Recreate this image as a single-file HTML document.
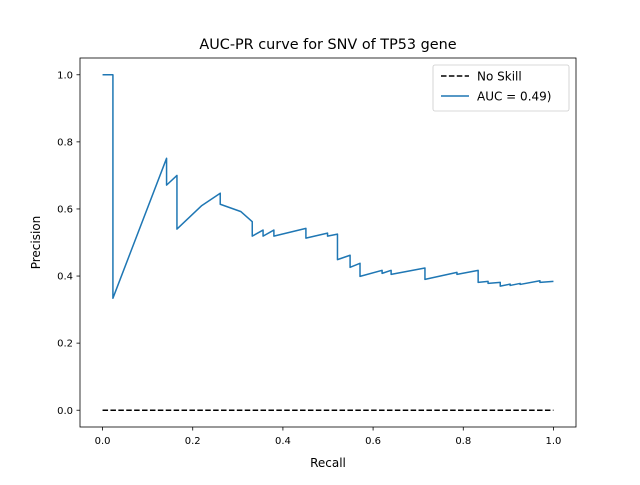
<!DOCTYPE html>
<html><head><meta charset="utf-8"><style>
body{margin:0;background:#fff}
svg{font-family:"DejaVu Sans","Liberation Sans",sans-serif}
</style></head><body>
<svg id="chart" width="640" height="480" xmlns="http://www.w3.org/2000/svg">
<rect width="640" height="480" fill="#fff"/>
<text x="328" y="49" text-anchor="middle" font-size="14.4">AUC-PR curve for SNV of TP53 gene</text>
<g id="ticks"></g>
<line id="noskill" stroke="#000" stroke-width="1.5" stroke-dasharray="5.5,2.4"/>
<path id="curve" fill="none" stroke="#1f77b4" stroke-width="1.5" stroke-linejoin="round"/>
<rect x="80" y="58" width="496" height="369" fill="none" stroke="#000" stroke-width="0.8"/>
<text x="328" y="467" text-anchor="middle" font-size="12">Recall</text>
<text transform="translate(40,242.5) rotate(-90)" text-anchor="middle" font-size="12">Precision</text>
<g>
<rect x="433" y="65" width="136" height="46" rx="2" fill="#fff" stroke="#ccc" stroke-width="0.8"/>
<line x1="441" y1="76" x2="469" y2="76" stroke="#000" stroke-width="1.5" stroke-dasharray="5.5,2.4"/>
<text x="477" y="80.5" font-size="12">No Skill</text>
<line x1="441" y1="96" x2="469" y2="96" stroke="#1f77b4" stroke-width="1.5"/>
<text x="477" y="100.5" font-size="12">AUC = 0.49)</text>
</g>
</svg>
<script>
const recall=[0,0.023,0.023,0.142,0.142,0.165,0.165,0.220,0.261,0.261,0.307,0.332,0.332,0.356,0.356,0.380,0.380,0.451,0.451,0.499,0.499,0.521,0.521,0.549,0.549,0.571,0.571,0.620,0.620,0.640,0.640,0.715,0.715,0.786,0.786,0.833,0.833,0.855,0.855,0.882,0.882,0.904,0.904,0.926,0.926,0.970,0.970,1.0];
const precision=[1,1,0.334,0.751,0.671,0.700,0.540,0.610,0.647,0.614,0.592,0.562,0.519,0.537,0.519,0.537,0.519,0.542,0.513,0.528,0.519,0.525,0.449,0.462,0.426,0.438,0.399,0.417,0.408,0.417,0.405,0.424,0.390,0.411,0.405,0.417,0.381,0.384,0.378,0.381,0.370,0.376,0.372,0.378,0.375,0.386,0.381,0.384];
const noSkillX=[0,1];
const noSkillY=[0,0];
const xTicks=[0,0.2,0.4,0.6,0.8,1.0];
const yTicks=[0,0.2,0.4,0.6,0.8,1.0];
const X=v=>80+(v+0.05)/1.1*496;
const Y=v=>427-(v+0.05)/1.1*369;
const ns='http://www.w3.org/2000/svg';
const g=document.getElementById('ticks');
function mk(t,a){const e=document.createElementNS(ns,t);for(const k in a)e.setAttribute(k,a[k]);return e;}
xTicks.forEach(v=>{
  const l=mk('line',{x1:X(v),x2:X(v),y1:427,y2:430.5,stroke:'#000','stroke-width':0.8});
  
  
  g.appendChild(l);
  const t=mk('text',{x:X(v),y:444,'text-anchor':'middle','font-size':10});
  
  
  t.textContent=v.toFixed(1);g.appendChild(t);
});
yTicks.forEach(v=>{
  const l=mk('line',{x1:76.5,x2:80,y1:Y(v),y2:Y(v),stroke:'#000','stroke-width':0.8});
  
  
  g.appendChild(l);
  const t=mk('text',{x:73,y:Y(v)+3.6,'text-anchor':'end','font-size':10});
  
  
  t.textContent=v.toFixed(1);g.appendChild(t);
});
const n=document.getElementById('noskill');
n.setAttribute('x1',X(noSkillX[0]));n.setAttribute('x2',X(noSkillX[1]));
n.setAttribute('y1',Y(noSkillY[0]));n.setAttribute('y2',Y(noSkillY[1]));
document.getElementById('curve').setAttribute('d',recall.map((r,i)=>(i?'L':'M')+X(r).toFixed(2)+','+Y(precision[i]).toFixed(2)).join(''));
</script>
</body></html>
